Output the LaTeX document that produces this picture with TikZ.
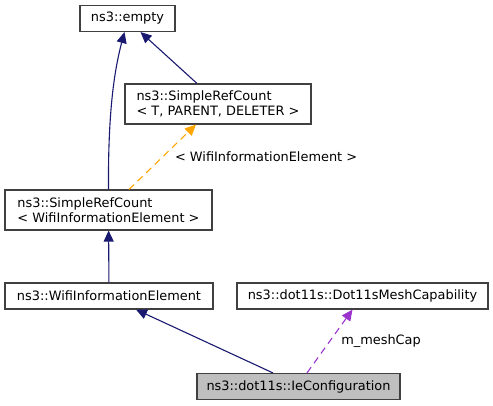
\documentclass[tikz,border=0pt]{standalone}
\usepackage{fontspec}
\setmainfont{DejaVu Sans}
\usepackage{xcolor}
\usepackage{tikz}
\usetikzlibrary{arrows.meta,calc}
\definecolor{edgeblue}{HTML}{191970}
\definecolor{edgeorange}{HTML}{FFA500}
\definecolor{edgeorchid}{HTML}{9A32CD}
\definecolor{boxline}{HTML}{404040}
\definecolor{boxgray}{HTML}{BFBFBF}
\tikzset{
  classbox/.style={draw=boxline,line width=1.1pt,fill=white,inner sep=0pt,align=left,
    font=\fontsize{12.9}{15}\selectfont},
  inherit/.style={edgeblue,line width=1.1pt,-{Triangle[width=10pt,length=11pt]}},
  templ/.style={edgeorange,line width=1.1pt,dash pattern=on 7pt off 5pt,
    -{Triangle[width=10pt,length=11pt]}},
  usage/.style={edgeorchid,line width=1.1pt,dash pattern=on 7pt off 5pt,
    -{Triangle[width=10pt,length=11pt]}},
  edgelabel/.style={text=black,font=\fontsize{12.9}{15}\selectfont,inner sep=0pt,anchor=west}
}

\begin{document}
\begin{tikzpicture}[x=1pt,y=-1pt]
  \useasboundingbox (0,0) rectangle (493,405);
  % classes
  \node[classbox,minimum width=95pt,minimum height=26pt] (empty) at (127.5,18.5) {ns3::empty};
  \node[classbox,minimum width=186pt,minimum height=40pt] (refTemplate) at (218,104)
    {ns3::SimpleRefCount\\< T, PARENT, DELETER >};
  \node[classbox,minimum width=207pt,minimum height=40pt] (refWifi) at (108.5,210)
    {ns3::SimpleRefCount\\< WifiInformationElement >};
  \node[classbox,minimum width=208pt,minimum height=26pt] (wifiIe) at (109,296) {ns3::WifiInformationElement};
  \node[classbox,minimum width=251pt,minimum height=26pt] (meshCap) at (362.5,296) {ns3::dot11s::Dot11sMeshCapability};
  \node[classbox,fill=boxgray,minimum width=203pt,minimum height=26pt] (ieConfig) at (298.5,386.5) {ns3::dot11s::IeConfiguration};

  % relations
  \draw[inherit] (refWifi.north) .. controls (108,120) and (113,75) .. ([xshift=-3pt]empty.south);
  \draw[inherit] ([xshift=-21pt]refTemplate.north) -- ([xshift=13pt]empty.south);
  \draw[templ] ([xshift=20.5pt]refWifi.north) -- ([xshift=-22pt]refTemplate.south)
    node[edgelabel,pos=0.5,xshift=12pt] {< WifiInformationElement >};
  \draw[inherit] (wifiIe) -- (refWifi);
  \draw[inherit] ([xshift=-25.5pt]ieConfig.north) -- ([xshift=27pt]wifiIe.south);
  \draw[usage] ([xshift=8.5pt]ieConfig.north) -- ([xshift=-10pt]meshCap.south)
    node[edgelabel,pos=0.5,xshift=11pt] {m\_meshCap};
\end{tikzpicture}
\end{document}
